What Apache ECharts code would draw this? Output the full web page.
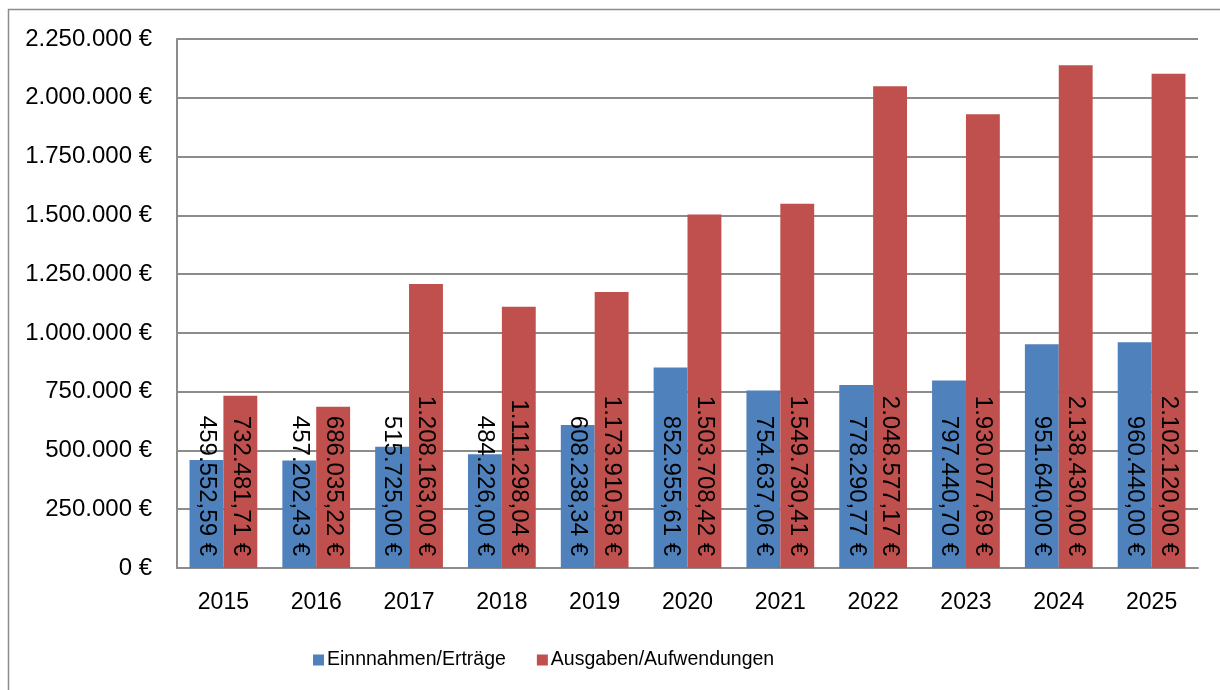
<!DOCTYPE html>
<html>
<head>
<meta charset="utf-8">
<script src="https://cdn.jsdelivr.net/npm/echarts@6/dist/echarts.min.js"></script>
<style>
  html, body { margin: 0; padding: 0; background: #fff; }
  #chart { width: 1220px; height: 690px; }
</style>
</head>
<body>
<div id="chart"></div>
<script>
// Jahre
var jahre = ['2015', '2016', '2017', '2018', '2019', '2020', '2021', '2022', '2023', '2024', '2025'];
// Einnahmen / Erträge
var einnahmen = [459552.59, 457202.43, 515725.00, 484226.00, 608238.34, 852955.61, 754637.06, 778290.77, 797440.70, 951640.00, 960440.00];
// Ausgaben / Aufwendungen
var ausgaben = [732481.71, 686035.22, 1208163.00, 1111298.04, 1173910.58, 1503708.42, 1549730.41, 2048577.17, 1930077.69, 2138430.00, 2102120.00];
var serienNamen = ['Einnnahmen/Erträge', 'Ausgaben/Aufwendungen'];
var yMax = 2250000, yStep = 250000;

var fontName = 'Liberation Sans';

function tausender(n) {
    return String(Math.round(n)).replace(/\B(?=(\d{3})+(?!\d))/g, '.');
}
function euro(v) {
    var teile = v.toFixed(2).split('.');
    return tausender(Number(teile[0])) + ',' + teile[1] + ' €';
}

var myChart = echarts.init(document.getElementById('chart'));

var balkenLabel = {
    show: true,
    position: 'insideBottom',
    rotate: -90,
    align: 'right',
    verticalAlign: 'middle',
    distance: 12,
    color: '#000',
    fontFamily: fontName,
    fontSize: 24,
    formatter: function(p) { return euro(p.value); }
};

var option = {
    animation: false,
    backgroundColor: '#fff',
    textStyle: { fontFamily: fontName },
    graphic: [{
        type: 'rect',
        silent: true,
        shape: { x: 8.5, y: 9.5, width: 1400, height: 900 },
        style: { fill: 'none', stroke: '#8c8c8c', lineWidth: 1.5 }
    }],
    grid: { left: 177, right: 22, top: 39, bottom: 122 },
    legend: {
        bottom: 15,
        left: 308,
        itemWidth: 11,
        itemHeight: 11,
        itemGap: 31,
        icon: 'rect',
        textStyle: { fontFamily: fontName, fontSize: 19.5, color: '#000', padding: [0, 0, 0, -2] },
        data: serienNamen
    },
    xAxis: {
        type: 'category',
        data: jahre,
        axisLine: { lineStyle: { color: '#8c8c8c', width: 2 } },
        axisTick: { show: false },
        axisLabel: { color: '#000', fontSize: 23, fontFamily: fontName, margin: 23 }
    },
    yAxis: {
        type: 'value',
        min: 0,
        max: yMax,
        interval: yStep,
        axisLine: { show: true, lineStyle: { color: '#8c8c8c', width: 2 } },
        axisTick: { show: false },
        splitLine: { lineStyle: { color: '#8c8c8c', width: 2 } },
        axisLabel: {
            color: '#000', fontSize: 24, fontFamily: fontName, margin: 25,
            formatter: function(v) { return tausender(v) + ' €'; }
        }
    },
    series: [{
        name: serienNamen[0],
        type: 'bar',
        data: einnahmen,
        barGap: '0%',
        barCategoryGap: '27%',
        itemStyle: { color: '#4F81BD' },
        label: balkenLabel
    }, {
        name: serienNamen[1],
        type: 'bar',
        data: ausgaben,
        barGap: '0%',
        barCategoryGap: '27%',
        itemStyle: { color: '#C0504D' },
        label: balkenLabel
    }]
};

myChart.setOption(option);
</script>
</body>
</html>
